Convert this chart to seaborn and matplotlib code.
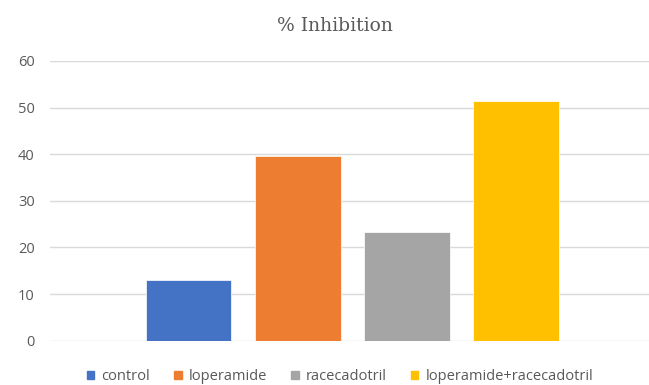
import matplotlib
matplotlib.use("Agg")
import matplotlib.pyplot as plt
import seaborn as sns
import pandas as pd

# data
groups = ["control", "loperamide", "racecadotril", "loperamide+racecadotril"]
inhibition = [13.0, 39.6, 23.4, 51.4]
colors = ["#4472C4", "#ED7D31", "#A5A5A5", "#FFC000"]
yticks = [0, 10, 20, 30, 40, 50, 60]

df = pd.DataFrame({"group": groups, "value": inhibition})

sns.set_style("white")
plt.rcParams["font.family"] = ["Open Sans", "DejaVu Sans"]

fig = plt.figure(figsize=(6.49, 3.85), dpi=100)
ax = fig.add_axes([50 / 649, 1 - 340.7 / 385, 599 / 649, (340.7 - 61) / 385])

sns.barplot(data=df, x="group", y="value", hue="group", palette=colors,
            saturation=1, width=0.784, legend=False, ax=ax,
            edgecolor="white", linewidth=0.5)

ax.set_ylim(0, 60)
ax.set_xlim(-1.271, 4.219)
ax.set_yticks(yticks)
ax.yaxis.grid(True, color="#d9d9d9", linewidth=1)
ax.set_axisbelow(True)
ax.set_xticks([])
ax.set_xlabel("")
ax.set_ylabel("")
ax.tick_params(axis="y", length=0, pad=11, labelsize=10.5, labelcolor="#595959")
for s in ax.spines.values():
    s.set_visible(False)

fig.text(335 / 649, 1 - 26 / 385, "% Inhibition", ha="center", va="center",
         fontsize=13.5, color="#595959", family="DejaVu Serif")

handles = [plt.Rectangle((0, 0), 1, 1, color=c) for c in colors]
fig.legend(handles, groups, loc="center", bbox_to_anchor=(0.524, 1 - 377 / 385),
           ncol=4, frameon=False, fontsize=10.5, handlelength=0.5, handleheight=0.5,
           handletextpad=0.5, columnspacing=1.65, labelcolor="#595959")

fig.savefig("out.png", dpi=100)
